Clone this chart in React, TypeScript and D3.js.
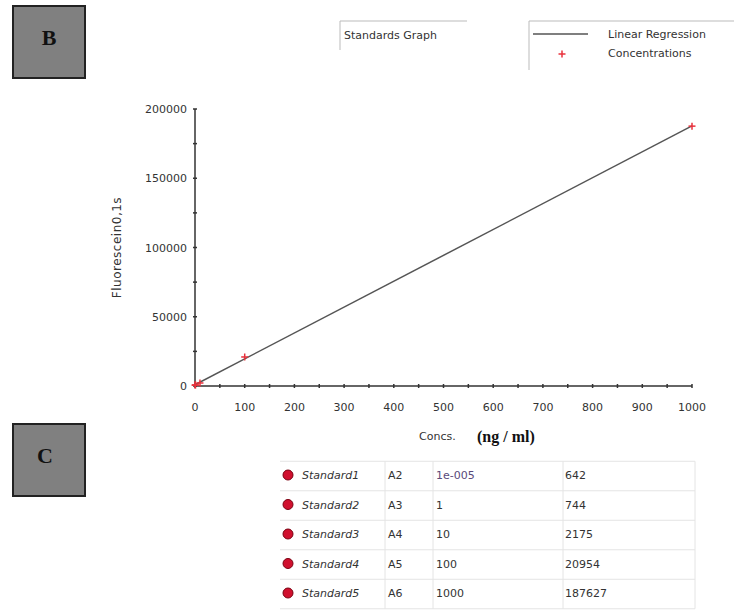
import React from 'react';
import * as d3 from 'd3';

// Standards data (concentration in ng/ml, fluorescence 0.1s)
const standardNames = ['Standard1', 'Standard2', 'Standard3', 'Standard4', 'Standard5'];
const wells = ['A2', 'A3', 'A4', 'A5', 'A6'];
const concLabels = ['1e-005', '1', '10', '100', '1000'];
const concs = [0.00001, 1, 10, 100, 1000];
const fluor = [642, 744, 2175, 20954, 187627];
const xTicks = [0, 100, 200, 300, 400, 500, 600, 700, 800, 900, 1000];
const yTicks = [0, 50000, 100000, 150000, 200000];

const FONT = 'Tahoma, "DejaVu Sans", Verdana, sans-serif';
const TEXT = '#333';

const App = () => {
  const W = 734;
  const H = 613;

  const x = d3.scaleLinear().domain([0, 1000]).range([195, 692]);
  const y = d3.scaleLinear().domain([0, 200000]).range([386, 109]);

  // least squares fit for the regression line
  const mx = d3.mean(concs) as number;
  const my = d3.mean(fluor) as number;
  const slope =
    d3.sum(concs.map((c, i) => (c - mx) * (fluor[i] - my))) /
    d3.sum(concs.map((c) => (c - mx) * (c - mx)));
  const intercept = my - slope * mx;
  const line = d3.line<number>().x((c) => x(c)).y((c) => y(intercept + slope * c));

  const minorX = d3.range(50, 1000, 100);
  const minorY = d3.range(25000, 200000, 50000);

  const rowY = d3.scaleLinear().domain([0, 4]).range([476, 594]);
  const rowH = 29.5;
  const colLines = [385, 433, 563, 695];

  const plus = (cx: number, cy: number, k: string) => (
    <g key={k} stroke="#e8323c" strokeWidth={1.5}>
      <line x1={cx - 3.5} x2={cx + 3.5} y1={cy} y2={cy} />
      <line x1={cx} x2={cx} y1={cy - 3.5} y2={cy + 3.5} />
    </g>
  );

  return (
    <svg width={W} height={H} style={{ position: 'absolute', left: 0, top: 0 }}>
      <rect width={W} height={H} fill="#fff" />

      {/* panel letters */}
      <rect x={13} y={6} width={72} height={72} fill="#808080" stroke="#222" strokeWidth={2} />
      <text x={49} y={45} textAnchor="middle" fontFamily='"Liberation Serif", serif' fontSize={22} fontWeight="bold" fill="#111">B</text>
      <rect x={13} y={424} width={72} height={72} fill="#808080" stroke="#222" strokeWidth={2} />
      <text x={45} y={463} textAnchor="middle" fontFamily='"Liberation Serif", serif' fontSize={22} fontWeight="bold" fill="#111">C</text>

      {/* title box */}
      <path d="M340,50 V21 H467" fill="none" stroke="#bbb" />
      <text x={344} y={39} fontFamily={FONT} fontSize={11} fill={TEXT}>Standards Graph</text>

      {/* legend */}
      <path d="M529,70 V21 H734" fill="none" stroke="#bbb" />
      <line x1={533} x2={588} y1={34} y2={34} stroke="#555" strokeWidth={1.5} />
      {plus(562, 54, 'lg')}
      <text x={608} y={38} fontFamily={FONT} fontSize={11} fill={TEXT}>Linear Regression</text>
      <text x={608} y={57} fontFamily={FONT} fontSize={11} fill={TEXT}>Concentrations</text>

      {/* axes */}
      <line x1={x(0)} x2={x(1000)} y1={y(0)} y2={y(0)} stroke="#333" strokeWidth={1.5} />
      <line x1={x(0)} x2={x(0)} y1={y(0)} y2={y(200000)} stroke="#333" strokeWidth={1.5} />
      {xTicks.map((t) => (
        <g key={'xt' + t}>
          <line x1={x(t)} x2={x(t)} y1={y(0) - 2} y2={y(0) + 2} stroke="#333" strokeWidth={1.5} />
          <text x={x(t)} y={y(0) + 25} textAnchor="middle" fontFamily={FONT} fontSize={11} fill={TEXT}>{t}</text>
        </g>
      ))}
      {minorX.map((t) => (
        <line key={'mx' + t} x1={x(t)} x2={x(t)} y1={y(0) - 2} y2={y(0) + 2} stroke="#333" strokeWidth={1.5} />
      ))}
      {yTicks.map((t) => (
        <g key={'yt' + t}>
          <line x1={x(0) - 2} x2={x(0) + 2} y1={y(t)} y2={y(t)} stroke="#333" strokeWidth={1.5} />
          <text x={x(0) - 8} y={y(t) + 4} textAnchor="end" fontFamily={FONT} fontSize={11} fill={TEXT}>{t}</text>
        </g>
      ))}
      {minorY.map((t) => (
        <line key={'my' + t} x1={x(0) - 2} x2={x(0) + 2} y1={y(t)} y2={y(t)} stroke="#333" strokeWidth={1.5} />
      ))}

      {/* axis titles */}
      <text
        transform={`translate(121,${(y(0) + y(200000)) / 2}) rotate(-90)`}
        textAnchor="middle"
        fontFamily={FONT}
        fontSize={12}
        letterSpacing={0.5}
        fill={TEXT}
      >
        Fluorescein0,1s
      </text>
      <text x={419} y={440} fontFamily={FONT} fontSize={11} fill={TEXT}>Concs.</text>
      <text x={477} y={442} fontFamily='"Liberation Serif", serif' fontSize={16} fontWeight="bold" fill="#111">(ng / ml)</text>

      {/* regression line and points */}
      <path d={line([0, 1000]) as string} fill="none" stroke="#555" strokeWidth={1.5} />
      {concs.map((c, i) => plus(x(c), y(fluor[i]), 'p' + i))}

      {/* table */}
      {standardNames.map((_, i) => (
        <line key={'hl' + i} x1={280} x2={695} y1={rowY(i) - rowH / 2} y2={rowY(i) - rowH / 2} stroke="#e4e4e4" />
      ))}
      <line x1={280} x2={695} y1={rowY(4) + rowH / 2} y2={rowY(4) + rowH / 2} stroke="#e4e4e4" />
      {colLines.map((cx) => (
        <line key={'cl' + cx} x1={cx} x2={cx} y1={rowY(0) - rowH / 2} y2={rowY(4) + rowH / 2} stroke="#e4e4e4" />
      ))}
      {standardNames.map((name, i) => (
        <g key={'row' + i} fontFamily={FONT} fontSize={11} fill={TEXT}>
          <circle cx={288} cy={rowY(i) - 1} r={5} fill="#d0102e" stroke="#7a0010" strokeWidth={1} />
          <text x={302} y={rowY(i) + 3} fontStyle="italic">{name}</text>
          <text x={388} y={rowY(i) + 3}>{wells[i]}</text>
          <text x={436} y={rowY(i) + 3} fill={i === 0 ? '#5a4a7a' : TEXT}>{concLabels[i]}</text>
          <text x={565} y={rowY(i) + 3}>{fluor[i]}</text>
        </g>
      ))}
    </svg>
  );
};

export default App;
